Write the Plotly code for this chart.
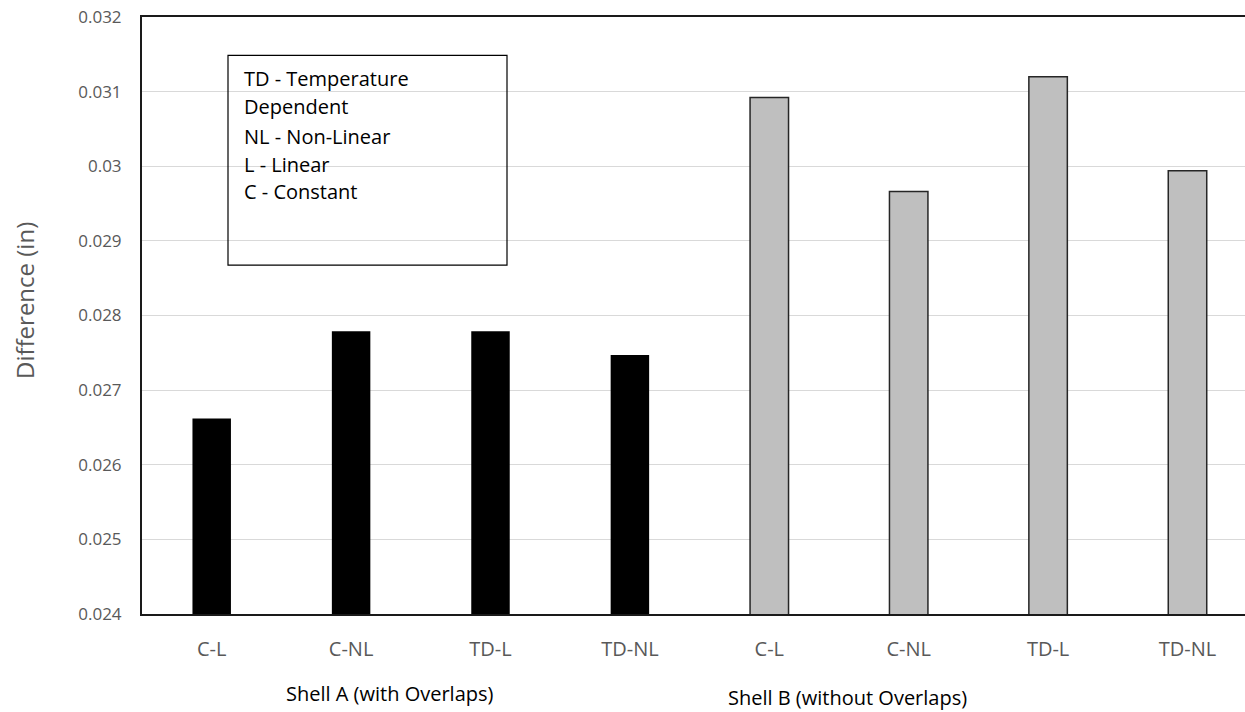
import plotly.graph_objects as go

# ---- data ----
categories = ["C-L", "C-NL", "TD-L", "TD-NL"]
shell_a = [0.02662, 0.02779, 0.02779, 0.02747]
shell_b = [0.03092, 0.02966, 0.03120, 0.02994]
group_labels = ["Shell A (with Overlaps)", "Shell B (without Overlaps)"]
note_lines = ["TD - Temperature", "Dependent", "NL - Non-Linear", "L - Linear", "C - Constant"]
y_ticks = [0.024, 0.025, 0.026, 0.027, 0.028, 0.029, 0.030, 0.031, 0.032]
y_tick_labels = ["0.024", "0.025", "0.026", "0.027", "0.028", "0.029", "0.03", "0.031", "0.032"]
y_title = "Difference (in)"

W, H = 1245, 712
L, T, B = 142, 16.5, 614.5  # plot area pixel edges
R = W
pw, ph = R - L, B - T

def px(x):
    return (x - L) / pw

def py(y):
    return (B - y) / ph

n = len(categories)
xa = list(range(n))
xb = list(range(n, 2 * n))

FONT = "Open Sans"
GRAY = "#595959"

fig = go.Figure()
fig.add_trace(go.Bar(x=xa, y=shell_a, width=0.276, marker=dict(color="#000000", line=dict(width=0)),
                     name=group_labels[0]))
fig.add_trace(go.Bar(x=xb, y=shell_b, width=0.276,
                     marker=dict(color="#BFBFBF", line=dict(color="#262626", width=1.5)),
                     name=group_labels[1]))

annotations = []
# y-axis title
annotations.append(dict(text=y_title, x=px(24), y=py(300), xref="paper", yref="paper",
                        showarrow=False, xanchor="center", yanchor="middle", textangle=-90,
                        font=dict(family=FONT, size=24, color=GRAY)))
# group labels
annotations.append(dict(text=group_labels[0], x=px(390), y=py(694), xref="paper", yref="paper",
                        showarrow=False, xanchor="center", yanchor="middle",
                        font=dict(family=FONT, size=20, color="#000000")))
annotations.append(dict(text=group_labels[1], x=px(847), y=py(698), xref="paper", yref="paper",
                        showarrow=False, xanchor="center", yanchor="middle",
                        font=dict(family=FONT, size=20, color="#000000")))
# note lines
line_y = [78, 106.5, 136.5, 164, 191.5]
for t, yy in zip(note_lines, line_y):
    annotations.append(dict(text=t, x=px(242), y=py(yy), xref="paper", yref="paper",
                            showarrow=False, xanchor="left", yanchor="middle",
                            font=dict(family=FONT, size=20, color="#000000")))

fig.update_layout(
    width=W, height=H,
    margin=dict(l=L, r=0, t=T, b=H - B, pad=0),
    paper_bgcolor="white", plot_bgcolor="white",
    barmode="overlay",
    showlegend=False,
    font=dict(family=FONT, color=GRAY),
    annotations=annotations,
    shapes=[dict(type="rect", xref="paper", yref="paper",
                 x0=px(228), x1=px(507), y0=py(265), y1=py(55),
                 line=dict(color="#000000", width=1.2), fillcolor="rgba(0,0,0,0)")],
    xaxis=dict(
        range=[-0.5, -0.5 + pw / 139.4],
        tickmode="array", tickvals=xa + xb, ticktext=categories + categories,
        tickfont=dict(family=FONT, size=20, color=GRAY),
        showgrid=False, zeroline=False,
        showline=True, linecolor="#1a1a1a", linewidth=2, mirror=True,
        ticks="", ticklabelstandoff=16,
    ),
    yaxis=dict(
        range=[0.024, 0.032],
        tickmode="array", tickvals=y_ticks, ticktext=y_tick_labels,
        tickfont=dict(family=FONT, size=17, color=GRAY),
        showgrid=True, gridcolor="#D9D9D9", gridwidth=1,
        zeroline=False,
        showline=True, linecolor="#1a1a1a", linewidth=2,
        ticks="", ticklabelstandoff=15,
    ),
)

fig.write_html("out.html", config={"displayModeBar": False},
               post_script="document.body.style.margin='0';document.body.style.padding='0';")
